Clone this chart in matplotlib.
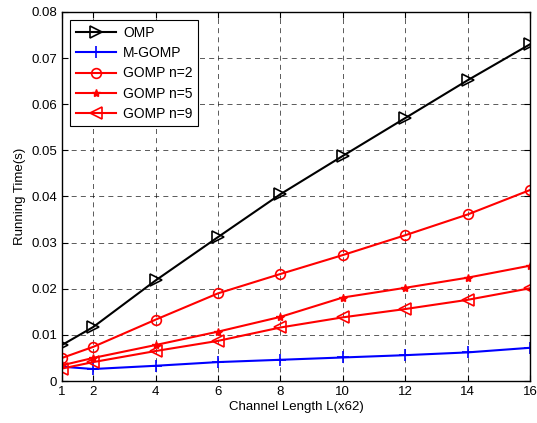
import matplotlib
matplotlib.use('Agg')
import matplotlib.pyplot as plt

# donnees
L = [1, 2, 4, 6, 8, 10, 12, 14, 16]
omp = [0.0078, 0.0117, 0.0218, 0.0312, 0.0405, 0.0488, 0.0570, 0.0652, 0.0730]
mgomp = [0.0031, 0.0026, 0.0033, 0.0041, 0.0046, 0.0051, 0.0056, 0.0062, 0.0072]
gomp2 = [0.0050, 0.0074, 0.0133, 0.0190, 0.0232, 0.0273, 0.0316, 0.0361, 0.0414]
gomp5 = [0.0034, 0.0050, 0.0078, 0.0107, 0.0139, 0.0181, 0.0202, 0.0224, 0.0250]
gomp9 = [0.0027, 0.0041, 0.0065, 0.0087, 0.0116, 0.0138, 0.0156, 0.0176, 0.0201]

plt.rcParams['font.family'] = ['Liberation Sans', 'DejaVu Sans']
plt.rcParams['font.size'] = 9.5

fig = plt.figure(figsize=(5.37, 4.23), dpi=100)
ax = fig.add_axes([62 / 537, 1 - 381 / 423, 468 / 537, 369 / 423])

ax.plot(L, omp, color='k', marker='>', markersize=8, markerfacecolor='none',
        markeredgewidth=1.2, linewidth=1.5, label='OMP')
ax.plot(L, mgomp, color='b', marker='+', markersize=8, markeredgewidth=1.2,
        linewidth=1.5, label='M-GOMP')
ax.plot(L, gomp2, color='r', marker='o', markersize=7, markerfacecolor='none',
        markeredgewidth=1.2, linewidth=1.5, label='GOMP n=2')
ax.plot(L, gomp5, color='r', marker='*', markersize=6, linewidth=1.5, label='GOMP n=5')
ax.plot(L, gomp9, color='r', marker='<', markersize=8, markerfacecolor='none',
        markeredgewidth=1.2, linewidth=1.5, label='GOMP n=9')

ax.set_xlim(1, 16)
ax.set_ylim(0, 0.08)
ax.set_xticks(L)
ax.set_yticks([0, 0.01, 0.02, 0.03, 0.04, 0.05, 0.06, 0.07, 0.08])
ax.set_yticklabels(['0', '0.01', '0.02', '0.03', '0.04', '0.05', '0.06', '0.07', '0.08'])
ax.tick_params(direction='in', top=True, right=True, length=4)
ax.grid(True, color='k', linestyle=(0, (6, 5)), linewidth=0.6, alpha=0.75)
for s in ax.spines.values():
    s.set_linewidth(1.0)

ax.set_xlabel('Channel Length L(x62)', labelpad=2)
ax.set_ylabel('Running Time(s)', labelpad=4)

leg = ax.legend(loc='upper left', fancybox=False, edgecolor='k', framealpha=1,
                borderaxespad=0.6, handlelength=2.9, handletextpad=0.5,
                labelspacing=0.45, fontsize=10, borderpad=0.4)
leg.get_frame().set_linewidth(0.8)

fig.savefig('out.png', dpi=100)
